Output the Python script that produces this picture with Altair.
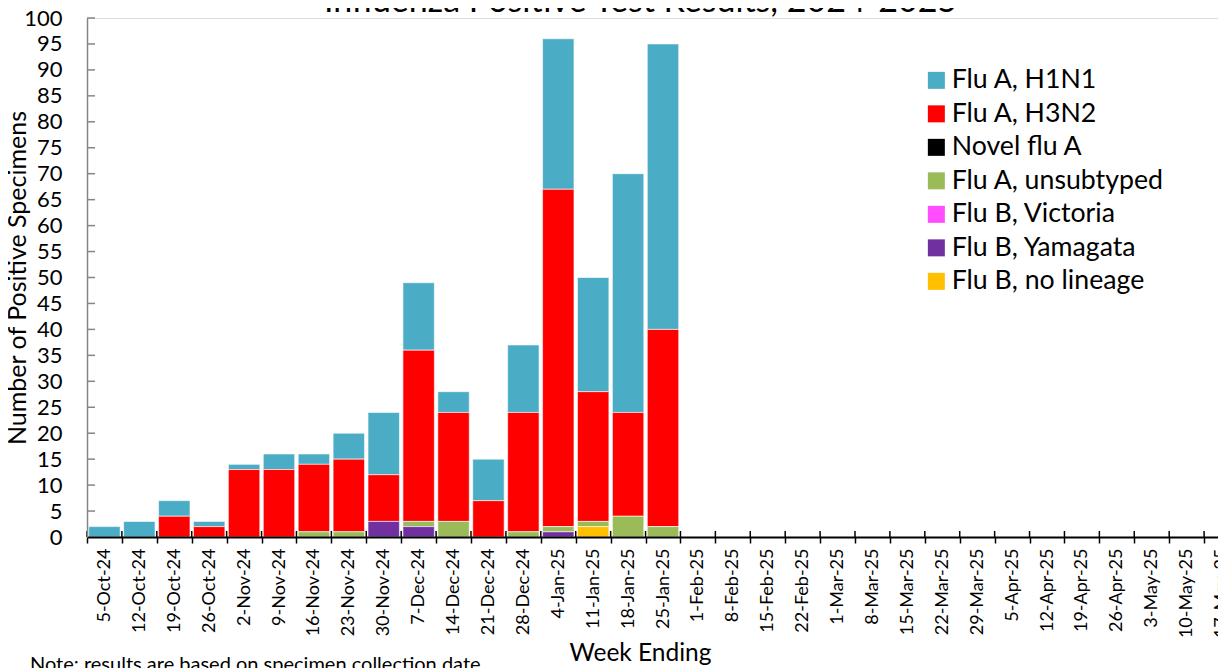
import altair as alt
import pandas as pd

weeks = ["5-Oct-24", "12-Oct-24", "19-Oct-24", "26-Oct-24", "2-Nov-24", "9-Nov-24",
         "16-Nov-24", "23-Nov-24", "30-Nov-24", "7-Dec-24", "14-Dec-24", "21-Dec-24",
         "28-Dec-24", "4-Jan-25", "11-Jan-25", "18-Jan-25", "25-Jan-25", "1-Feb-25",
         "8-Feb-25", "15-Feb-25", "22-Feb-25", "1-Mar-25", "8-Mar-25", "15-Mar-25",
         "22-Mar-25", "29-Mar-25", "5-Apr-25", "12-Apr-25", "19-Apr-25", "26-Apr-25",
         "3-May-25", "10-May-25", "17-May-25"]

series_names = ["Flu A, H1N1", "Flu A, H3N2", "Novel flu A", "Flu A, unsubtyped",
                "Flu B, Victoria", "Flu B, Yamagata", "Flu B, no lineage"]
series_colors = ["#4BACC6", "#FF0000", "#000000", "#9BBB59", "#FF4DFF", "#7030A0", "#FFC000"]

# values for the weeks 5-Oct-24 .. 25-Jan-25 (later weeks have no data yet)
flu_a_h1n1 = [2, 3, 3, 1, 1, 3, 2, 5, 12, 13, 4, 8, 13, 29, 22, 46, 55]
flu_a_h3n2 = [0, 0, 4, 2, 13, 13, 13, 14, 9, 33, 21, 7, 23, 65, 25, 20, 38]
novel_flu_a = [0, 0, 0, 0, 0, 0, 0, 0, 0, 0, 0, 0, 0, 0, 0, 0, 0]
flu_a_unsub = [0, 0, 0, 0, 0, 0, 1, 1, 0, 1, 3, 0, 1, 1, 1, 4, 2]
flu_b_victoria = [0, 0, 0, 0, 0, 0, 0, 0, 0, 0, 0, 0, 0, 0, 0, 0, 0]
flu_b_yamagata = [0, 0, 0, 0, 0, 0, 0, 0, 3, 2, 0, 0, 0, 1, 0, 0, 0]
flu_b_nolineage = [0, 0, 0, 0, 0, 0, 0, 0, 0, 0, 0, 0, 0, 0, 2, 0, 0]

y_ticks = list(range(0, 101, 5))
note_text = "Note: results are based on specimen collection date"
title_text = "Influenza Positive Test Results, 2024-2025"

series_values = [flu_a_h1n1, flu_a_h3n2, novel_flu_a, flu_a_unsub,
                 flu_b_victoria, flu_b_yamagata, flu_b_nolineage]

rows = []
for si, (name, vals) in enumerate(zip(series_names, series_values)):
    for wi, v in enumerate(vals):
        if v > 0:
            rows.append({"week": weeks[wi], "type": name, "count": v,
                         "stack": len(series_names) - si})
df = pd.DataFrame(rows)

FONT = "Lato"
PLOT_H = 519
x_scale = alt.Scale(domain=weeks, range=[0, 1152], paddingInner=0, paddingOuter=0)
y_scale = alt.Scale(domain=[0, 100], nice=False)

x_axis = alt.Axis(title="Week Ending", labelAngle=-90, labelFont=FONT,
                  labelFontSize=18, labelColor="black", labelPadding=5,
                  labelOverlap=False, tickBand="extent", tickSize=6,
                  tickColor="black", tickWidth=1.5, domainColor="black",
                  domainWidth=2, titleFont=FONT, titleFontSize=24.5,
                  titleFontWeight="normal", titleColor="black",
                  titleX=553, titleY=123, titleAlign="center",
                  titleBaseline="alphabetic", zindex=2)
y_axis = alt.Axis(title="Number of Positive Specimens", values=y_ticks,
                  ticks=False, grid=False, labelFont=FONT, labelFontSize=22,
                  labelColor="black", labelPadding=25, domainColor="#868686",
                  domainWidth=1.5, titleFont=FONT, titleFontSize=25,
                  titleFontWeight="normal", titleColor="black",
                  titleAngle=270, titleX=-70, titleY=PLOT_H / 2,
                  titleAlign="center", titleBaseline="middle", zindex=2)

bars = alt.Chart(df).mark_bar(width={"band": 0.9}, stroke="white", strokeWidth=0.6).encode(
    x=alt.X("week:N", scale=x_scale, sort=weeks, axis=x_axis),
    y=alt.Y("count:Q", stack="zero", scale=y_scale, axis=y_axis),
    color=alt.Color("type:N", scale=alt.Scale(domain=series_names, range=series_colors),
                    legend=alt.Legend(title=None, orient="none", legendX=836, legendY=49,
                                      symbolType="square", symbolSize=289,
                                      symbolStrokeWidth=0, labelFont=FONT,
                                      labelFontSize=26.7, labelColor="black",
                                      labelLimit=400, labelOffset=2, rowPadding=5.5,
                                      padding=0)),
    order=alt.Order("stack:Q", sort="ascending"),
)

ytick_df = pd.DataFrame({"count": y_ticks[1:]})
yticks = alt.Chart(ytick_df).mark_rule(color="#868686", strokeWidth=1.5).encode(
    y=alt.Y("count:Q", scale=y_scale, axis=y_axis),
    x=alt.value(0), x2=alt.value(8),
)

xtick_df = pd.DataFrame({"week": weeks})
xticks = alt.Chart(xtick_df).mark_rule(color="black", strokeWidth=1.5).encode(
    x=alt.X("week:N", scale=x_scale, sort=weeks, axis=x_axis, bandPosition=0),
    y=alt.value(PLOT_H - 6), y2=alt.value(PLOT_H),
)

note = alt.Chart(pd.DataFrame({"t": [note_text]})).mark_text(
    align="left", baseline="top", font=FONT, fontSize=20, color="black"
).encode(text="t:N", x=alt.value(-57), y=alt.value(637))

chart = alt.layer(bars, yticks, xticks, note).properties(
    width=1131, height=PLOT_H,
    autosize=alt.AutoSizeParams(type="none"),
    padding={"left": 79, "top": 10, "right": 0, "bottom": 131},
    title=alt.TitleParams(title_text, font=FONT, fontSize=34, fontWeight="normal",
                          color="black", anchor="middle", frame="group",
                          dx=-12, dy=12, offset=0),
).configure_view(strokeWidth=0).configure(background="white")

chart.save("out.html", embed_options={"renderer": "svg", "actions": False})
